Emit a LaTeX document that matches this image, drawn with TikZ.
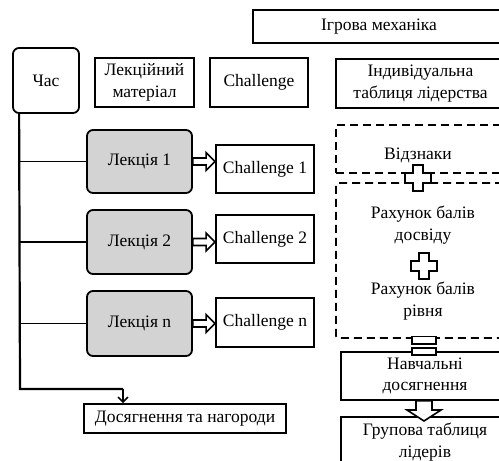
\documentclass[tikz,border=0pt]{standalone}
\usepackage{fontspec}
\setmainfont{Liberation Serif}
\usetikzlibrary{calc,arrows.meta}
\definecolor{lecgray}{RGB}{211,211,211}
\tikzset{
  every node/.style={font=\fontsize{17.5}{21.5}\selectfont, align=center, inner sep=0pt},
  box/.style={draw, line width=1.8pt, minimum width=#1},
  rbox/.style={draw, line width=1.8pt, rounded corners=6pt},
  lecbox/.style={rbox, fill=lecgray, minimum width=105pt},
  dbox/.style={draw, line width=1.7pt, dash pattern=on 8pt off 5pt},
  hollow/.style={draw, line width=1.6pt, fill=white, line join=miter},
  timeline/.style={line width=2.2pt},
  branch/.style={line width=1.5pt},
}
% hollow cross centred at (#1,#2)
\newcommand{\crossmark}[2]{%
  \path[hollow, line width=1.9pt] (#1-5,#2-13) -- (#1+5,#2-13) -- (#1+5,#2-5) -- (#1+13,#2-5)
    -- (#1+13,#2+5) -- (#1+5,#2+5) -- (#1+5,#2+13) -- (#1-5,#2+13)
    -- (#1-5,#2+5) -- (#1-13,#2+5) -- (#1-13,#2-5) -- (#1-5,#2-5) -- cycle;}
\begin{document}
\begin{tikzpicture}[x=1pt,y=-1pt]
\useasboundingbox (0,0) rectangle (499,461);

% header row
\node[box=252pt, minimum height=33pt] (mech) at (379,26.5) {Ігрова механіка};
\node[rbox, minimum width=66pt, minimum height=65pt] (chas) at (46,80.5) {Час};
\node[box=99pt, minimum height=49pt] (lecmat) at (144.5,82.5) {Лекційний\\матеріал};
\node[box=98pt, minimum height=49pt] (chall) at (259,82.5) {Challenge};
\node[box=169pt, minimum height=49pt] (indiv) at (420.5,83.5) {Індивідуальна\\таблиця лідерства};

% lectures and their challenges
\node[lecbox, minimum height=63pt] (lec1) at (139.5,161.5) {Лекція 1};
\node[lecbox, minimum height=64pt] (lec2) at (139.5,242) {Лекція 2};
\node[lecbox, minimum height=65pt] (lecn) at (139.5,323.5) {Лекція n};
\node[box=98pt, minimum height=48pt] (ch1) at (265,169) {Challenge 1};
\node[box=98pt, minimum height=48pt] (ch2) at (265,239) {Challenge 2};
\node[box=98pt, minimum height=49pt] (chn) at (265,322.5) {Challenge n};

% hollow arrows lecture -> challenge
\foreach \l/\c in {lec1/ch1, lec2/ch2, lecn/chn}{
  \path let \p1=(\l.east), \p2=(\c.west) in
    [hollow] (\x1,\y1-3.5) -- (\x2-9,\y1-3.5) -- (\x2-9,\y1-9) -- (\x2,\y1)
    -- (\x2-9,\y1+9) -- (\x2-9,\y1+3.5) -- (\x1,\y1+3.5) -- cycle;
}

% time axis
\node[box=202pt, minimum height=29pt] (dosyag) at (185,418.5) {Досягнення та нагороди};
\coordinate (t0) at ($(chas.south west)+(7,0)$);
\coordinate (t1) at (20,389);
\coordinate (t2) at (123,389);
\draw[timeline] (t0) -- (t1) -- (t2);
\draw[branch, -{Straight Barb[length=5pt,width=10pt,line width=1.5pt]}] (t2) -- (t2 |- dosyag.north);
\foreach \l in {lec1,lec2,lecn}{
  \draw[branch] (\l.west -| t1) -- (\l.west);
}

% game mechanics column
\node[dbox, minimum width=169pt, minimum height=48pt] (vidzbox) at (420.5,149) {};
\node[dbox, rounded corners=2pt, minimum width=169pt, minimum height=155pt] (ratebox) at (420.5,260.5) {};
\node (vidz) at (418,155) {Відзнаки};
\node (exp) at (423,225) {Рахунок балів\\досвіду};
\node (lvl) at (423,301) {Рахунок балів\\рівня};
\crossmark{418}{178}
\crossmark{424}{266}

\node[box=168pt, minimum height=48pt] (navch) at (425,376) {Навчальні\\досягнення};
\node[box=168pt, minimum height=50pt] (grup) at (425,442) {Групова таблиця\\лідерів};

% equals sign between the dashed block and the results
\path[hollow] (412,336.5) rectangle (436,344);
\path[hollow] (412,348) rectangle (436,355);

% hollow arrow down from the results to the group table
\path let \p1=(navch.south) in
  [hollow] (416,\y1) -- (416,410) -- (407,410) -- (424,421)
  -- (441,410) -- (432,410) -- (432,\y1) -- cycle;
\end{tikzpicture}
\end{document}
